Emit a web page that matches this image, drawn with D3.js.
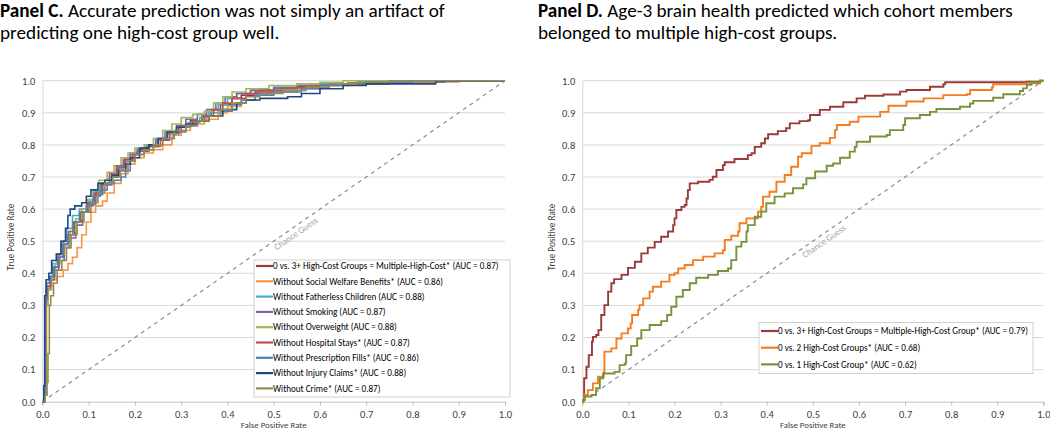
<!DOCTYPE html>
<html><head><meta charset="utf-8">
<script src="https://cdn.jsdelivr.net/npm/d3@7"></script>
<style>body{margin:0;background:#fff}svg{display:block}</style>
</head><body>
<svg id="chart" width="1050" height="430"></svg>
<script>
// ---------- DATA ----------
const ticks = [0,0.1,0.2,0.3,0.4,0.5,0.6,0.7,0.8,0.9,1.0];
const tickLabels = ["0.0","0.1","0.2","0.3","0.4","0.5","0.6","0.7","0.8","0.9","1.0"];
const titleC1 = "Accurate prediction was not simply an artifact of";
const titleC2 = "predicting one high-cost group well.";
const titleD1 = "Age-3 brain health predicted which cohort members";
const titleD2 = "belonged to multiple high-cost groups.";
const xTitle = "False Positive Rate";
const yTitle = "True Positive Rate";
const chanceLabel = "Chance Guess";

const namesC = [
 "0 vs. 3+ High-Cost Groups = Multiple-High-Cost* (AUC = 0.87)",
 "Without Social Welfare Benefits* (AUC = 0.86)",
 "Without Fatherless Children (AUC = 0.88)",
 "Without Smoking (AUC = 0.87)",
 "Without Overweight (AUC = 0.88)",
 "Without Hospital Stays* (AUC = 0.87)",
 "Without Prescription Fills* (AUC = 0.86)",
 "Without Injury Claims* (AUC = 0.88)",
 "Without Crime* (AUC = 0.87)"
];
const colorsC = ["#9B3B38","#F79646","#4BACC6","#8064A2","#9BBB59","#C0504D","#4F81BD","#1F497D","#948A54"];

const cMain = [[0,0],[0.005,0.02],[0.007,0.31],[0.01,0.35],[0.018,0.38],[0.025,0.42],[0.035,0.45],[0.046,0.49],[0.057,0.52],[0.07,0.56],[0.085,0.59],[0.1,0.62],[0.115,0.65],[0.13,0.68],[0.15,0.705],[0.165,0.73],[0.18,0.75],[0.195,0.77],[0.21,0.785],[0.23,0.795],[0.25,0.815],[0.27,0.835],[0.295,0.855],[0.32,0.875],[0.345,0.89],[0.365,0.91],[0.385,0.925],[0.41,0.945],[0.43,0.955],[0.46,0.965],[0.5,0.975],[0.55,0.982],[0.6,0.988],[0.66,0.993],[0.7,0.997],[0.78,1],[1,1]];
const cWelfare = [[0,0],[0.006,0.02],[0.009,0.3],[0.012,0.36],[0.02,0.38],[0.03,0.39],[0.045,0.41],[0.055,0.43],[0.065,0.45],[0.075,0.48],[0.085,0.52],[0.095,0.56],[0.105,0.59],[0.115,0.61],[0.13,0.625],[0.14,0.65],[0.155,0.68],[0.17,0.71],[0.185,0.74],[0.2,0.76],[0.22,0.775],[0.24,0.785],[0.26,0.8],[0.28,0.83],[0.3,0.845],[0.32,0.865],[0.35,0.88],[0.38,0.9],[0.4,0.92],[0.43,0.94],[0.46,0.955],[0.5,0.965],[0.55,0.975],[0.6,0.985],[0.67,0.99],[0.72,0.997],[0.8,1],[1,1]];
const cFatherless = [[0,0],[0.004,0.03],[0.006,0.33],[0.009,0.37],[0.015,0.39],[0.022,0.43],[0.032,0.46],[0.042,0.5],[0.052,0.54],[0.065,0.58],[0.08,0.6],[0.095,0.625],[0.11,0.655],[0.125,0.68],[0.145,0.7],[0.16,0.725],[0.175,0.75],[0.19,0.77],[0.205,0.78],[0.225,0.795],[0.245,0.815],[0.27,0.835],[0.29,0.855],[0.315,0.87],[0.34,0.885],[0.36,0.9],[0.38,0.925],[0.4,0.945],[0.42,0.96],[0.45,0.97],[0.5,0.98],[0.55,0.985],[0.6,0.99],[0.7,0.995],[0.75,1],[1,1]];
const cSmoking = [[0,0],[0.005,0.02],[0.007,0.3],[0.01,0.35],[0.017,0.38],[0.025,0.41],[0.035,0.44],[0.047,0.48],[0.058,0.51],[0.072,0.55],[0.087,0.59],[0.1,0.615],[0.115,0.645],[0.13,0.675],[0.15,0.7],[0.163,0.73],[0.175,0.755],[0.19,0.775],[0.205,0.785],[0.225,0.8],[0.245,0.82],[0.265,0.84],[0.29,0.86],[0.31,0.88],[0.335,0.895],[0.355,0.91],[0.375,0.93],[0.395,0.95],[0.42,0.96],[0.45,0.97],[0.5,0.977],[0.55,0.985],[0.62,0.99],[0.68,0.995],[0.76,1],[1,1]];
const cOverweight = [[0,0],[0.006,0.02],[0.008,0.3],[0.012,0.35],[0.02,0.39],[0.028,0.43],[0.038,0.46],[0.048,0.49],[0.06,0.53],[0.072,0.57],[0.085,0.6],[0.098,0.63],[0.11,0.66],[0.122,0.69],[0.14,0.715],[0.155,0.735],[0.17,0.76],[0.185,0.775],[0.2,0.79],[0.22,0.8],[0.24,0.82],[0.26,0.845],[0.28,0.865],[0.3,0.885],[0.325,0.895],[0.35,0.905],[0.37,0.93],[0.39,0.95],[0.41,0.965],[0.44,0.975],[0.49,0.985],[0.55,0.99],[0.6,0.995],[0.65,1],[1,1]];
const cHospital = [[0,0],[0.005,0.03],[0.007,0.32],[0.011,0.36],[0.018,0.39],[0.026,0.42],[0.036,0.46],[0.046,0.5],[0.056,0.53],[0.068,0.56],[0.082,0.59],[0.097,0.62],[0.112,0.65],[0.127,0.68],[0.145,0.71],[0.16,0.735],[0.178,0.755],[0.195,0.77],[0.21,0.78],[0.23,0.795],[0.255,0.815],[0.275,0.84],[0.3,0.86],[0.325,0.875],[0.35,0.89],[0.37,0.91],[0.39,0.93],[0.41,0.945],[0.44,0.96],[0.47,0.97],[0.52,0.978],[0.58,0.985],[0.64,0.99],[0.75,0.993],[0.85,0.997],[0.9,1],[1,1]];
const cPrescription = [[0,0],[0.004,0.03],[0.006,0.32],[0.009,0.37],[0.016,0.39],[0.024,0.42],[0.034,0.45],[0.044,0.49],[0.054,0.52],[0.066,0.56],[0.08,0.59],[0.095,0.61],[0.11,0.64],[0.125,0.66],[0.14,0.68],[0.155,0.69],[0.17,0.7],[0.18,0.72],[0.19,0.75],[0.2,0.77],[0.22,0.785],[0.24,0.8],[0.26,0.82],[0.285,0.84],[0.31,0.86],[0.335,0.875],[0.36,0.89],[0.385,0.905],[0.41,0.925],[0.43,0.94],[0.46,0.955],[0.5,0.965],[0.56,0.975],[0.6,0.985],[0.65,0.99],[0.7,0.995],[0.8,1],[1,1]];
const cInjury = [[0,0],[0.003,0.05],[0.005,0.33],[0.008,0.38],[0.014,0.4],[0.02,0.44],[0.03,0.46],[0.04,0.5],[0.05,0.54],[0.055,0.58],[0.06,0.6],[0.07,0.61],[0.085,0.62],[0.095,0.64],[0.105,0.66],[0.12,0.68],[0.135,0.69],[0.15,0.705],[0.165,0.72],[0.18,0.74],[0.19,0.76],[0.21,0.79],[0.23,0.8],[0.25,0.82],[0.27,0.84],[0.29,0.855],[0.31,0.865],[0.335,0.875],[0.36,0.89],[0.39,0.91],[0.42,0.93],[0.44,0.94],[0.47,0.945],[0.53,0.95],[0.56,0.96],[0.6,0.975],[0.65,0.985],[0.7,0.99],[0.85,0.997],[0.87,1],[1,1]];
const cCrime = [[0,0],[0.006,0.02],[0.01,0.06],[0.012,0.15],[0.015,0.3],[0.018,0.33],[0.024,0.37],[0.032,0.41],[0.042,0.44],[0.052,0.48],[0.062,0.52],[0.075,0.56],[0.09,0.59],[0.105,0.62],[0.12,0.65],[0.135,0.68],[0.152,0.7],[0.168,0.72],[0.185,0.75],[0.2,0.77],[0.22,0.785],[0.24,0.8],[0.26,0.82],[0.285,0.845],[0.31,0.86],[0.335,0.875],[0.36,0.89],[0.385,0.91],[0.41,0.93],[0.44,0.95],[0.47,0.96],[0.52,0.97],[0.57,0.98],[0.62,0.99],[0.68,0.995],[0.75,1],[1,1]];

const namesD = [
 "0 vs. 3+ High-Cost Groups = Multiple-High-Cost Group* (AUC = 0.79)",
 "0 vs. 2 High-Cost Groups* (AUC = 0.68)",
 "0 vs. 1 High-Cost Group* (AUC = 0.62)"
];
const colorsD = ["#9B3B38","#F57C1F","#77933C"];
const d3plus = [[0,0],[0.002,0.005],[0.004,0.073],[0.009,0.109],[0.014,0.145],[0.021,0.187],[0.023,0.202],[0.03,0.208],[0.035,0.223],[0.041,0.27],[0.048,0.301],[0.056,0.343],[0.063,0.369],[0.069,0.382],[0.085,0.395],[0.099,0.417],[0.114,0.436],[0.128,0.462],[0.142,0.48],[0.157,0.498],[0.171,0.514],[0.186,0.53],[0.197,0.55],[0.2,0.571],[0.204,0.597],[0.215,0.607],[0.222,0.613],[0.226,0.633],[0.229,0.659],[0.233,0.68],[0.251,0.685],[0.276,0.691],[0.283,0.701],[0.291,0.722],[0.305,0.737],[0.309,0.746],[0.33,0.756],[0.359,0.768],[0.367,0.774],[0.374,0.794],[0.388,0.805],[0.396,0.82],[0.403,0.833],[0.424,0.843],[0.442,0.852],[0.45,0.867],[0.471,0.874],[0.49,0.877],[0.494,0.893],[0.515,0.909],[0.537,0.919],[0.566,0.933],[0.595,0.945],[0.613,0.953],[0.653,0.957],[0.689,0.966],[0.703,0.971],[0.732,0.971],[0.754,0.981],[0.783,0.989],[0.787,0.995],[0.964,0.997],[0.993,1],[1,1]];
const d2 = [[0,0],[0.002,0.005],[0.005,0.021],[0.012,0.036],[0.023,0.057],[0.034,0.078],[0.047,0.093],[0.048,0.156],[0.063,0.166],[0.074,0.197],[0.085,0.213],[0.099,0.228],[0.105,0.244],[0.108,0.27],[0.121,0.286],[0.124,0.301],[0.132,0.322],[0.146,0.343],[0.153,0.358],[0.171,0.374],[0.189,0.395],[0.2,0.4],[0.208,0.415],[0.222,0.426],[0.24,0.441],[0.262,0.452],[0.28,0.452],[0.287,0.462],[0.305,0.472],[0.309,0.504],[0.323,0.517],[0.338,0.53],[0.341,0.556],[0.356,0.571],[0.381,0.592],[0.388,0.607],[0.392,0.639],[0.406,0.654],[0.421,0.685],[0.439,0.706],[0.453,0.732],[0.468,0.763],[0.476,0.774],[0.497,0.797],[0.515,0.805],[0.537,0.822],[0.548,0.846],[0.552,0.862],[0.58,0.872],[0.599,0.888],[0.638,0.888],[0.646,0.903],[0.664,0.922],[0.703,0.935],[0.74,0.945],[0.783,0.955],[0.834,0.958],[0.841,0.971],[0.888,0.979],[0.891,0.989],[0.964,0.992],[0.993,1],[1,1]];
const d1 = [[0,0],[0.002,0.005],[0.005,0.016],[0.02,0.021],[0.03,0.042],[0.038,0.073],[0.045,0.088],[0.07,0.093],[0.081,0.114],[0.092,0.119],[0.095,0.145],[0.106,0.174],[0.119,0.197],[0.128,0.223],[0.146,0.239],[0.171,0.251],[0.184,0.27],[0.193,0.296],[0.204,0.327],[0.218,0.348],[0.233,0.369],[0.247,0.386],[0.273,0.395],[0.294,0.407],[0.316,0.415],[0.323,0.441],[0.334,0.483],[0.345,0.498],[0.356,0.53],[0.359,0.55],[0.374,0.576],[0.388,0.592],[0.399,0.618],[0.417,0.639],[0.439,0.649],[0.457,0.665],[0.479,0.677],[0.486,0.696],[0.505,0.717],[0.53,0.735],[0.544,0.742],[0.559,0.76],[0.58,0.779],[0.591,0.794],[0.595,0.81],[0.624,0.826],[0.66,0.831],[0.667,0.846],[0.696,0.862],[0.7,0.883],[0.732,0.893],[0.754,0.903],[0.768,0.912],[0.819,0.919],[0.841,0.929],[0.848,0.937],[0.891,0.947],[0.913,0.958],[0.949,0.968],[0.956,0.976],[0.964,0.987],[0.974,0.995],[0.993,1],[1,1]];

const seriesC = [cMain,cWelfare,cFatherless,cSmoking,cOverweight,cHospital,cPrescription,cInjury,cCrime];
const seriesD = [d3plus,d2,d1];

// ---------- DRAW ----------
const FONT = "Carlito, Lato, 'Open Sans', sans-serif";
const svg = d3.select("#chart").style("font-family", FONT);

function fitWidth(sel, target){
  const w = sel.node().getComputedTextLength();
  const fs = parseFloat(sel.attr("font-size"));
  const nf = fs*target/w;
  sel.attr("font-size", nf);
  return nf;
}

// Titles
function title(x, bold, l1, l2, targetW){
  const t1 = svg.append("text").attr("x", x).attr("y", 17).attr("font-size", 16).attr("fill", "#000");
  t1.append("tspan").attr("font-weight", "bold").text(bold);
  t1.append("tspan").text(" " + l1);
  const fs = fitWidth(t1, targetW);
  svg.append("text").attr("x", x).attr("y", 38.5).attr("font-size", fs).attr("fill", "#000").text(l2);
}
title(0, "Panel C.", titleC1, titleC2, 445);
title(538, "Panel D.", titleD1, titleD2, 475);

function panel(opts){
  const x = d3.scaleLinear().domain([0,1]).range(opts.xr);
  const y = d3.scaleLinear().domain([0,1]).range([401.7, 80.7]);
  const g = svg.append("g");

  // gridlines
  g.append("g").selectAll("line").data(ticks.slice(1)).join("line")
    .attr("x1", x(0)).attr("x2", x(1))
    .attr("y1", d => y(d)).attr("y2", d => y(d))
    .attr("stroke", "#d9d9d9").attr("stroke-width", 1);

  // axes
  const xa = g.append("g").attr("transform", `translate(0,${y(0)})`)
    .call(d3.axisBottom(x).tickValues(ticks).tickFormat((d,i) => tickLabels[i]).tickSize(4).tickPadding(5));
  const ya = g.append("g").attr("transform", `translate(${x(0)},0)`)
    .call(d3.axisLeft(y).tickValues(ticks).tickFormat((d,i) => tickLabels[i]).tickSize(0).tickPadding(7));
  [xa, ya].forEach(a => {
    a.select(".domain").attr("stroke", "#bfbfbf");
    a.selectAll(".tick line").attr("stroke", "#bfbfbf");
    a.selectAll("text").attr("fill", "#404040").attr("font-size", 10.5).attr("font-family", FONT);
  });
  ya.select(".domain").attr("stroke", "#d9d9d9");

  // axis titles
  const xt = g.append("text").attr("x", (x(0)+x(1))/2).attr("y", 428).attr("text-anchor", "middle")
    .attr("font-size", 9).attr("fill", "#404040").text(xTitle);
  fitWidth(xt, 66);
  const yt = g.append("text").attr("transform", `translate(${opts.ytx},237) rotate(-90)`)
    .attr("text-anchor", "middle").attr("font-size", 9).attr("fill", "#404040").text(yTitle);
  fitWidth(yt, 67);

  // chance line
  g.append("line").attr("x1", x(0)).attr("y1", y(0)).attr("x2", x(1)).attr("y2", y(1))
    .attr("stroke", "#8c8c8c").attr("stroke-width", 1.2).attr("stroke-dasharray", "4,4");
  const ang = Math.atan2(y(0)-y(1), x(1)-x(0)) * 180 / Math.PI;
  g.append("text").attr("transform", `translate(${x(opts.chanceT)},${y(opts.chanceT)}) rotate(${-ang})`)
    .attr("text-anchor", "middle").attr("dy", "1.05em").attr("font-size", 9).attr("fill", "#a6a6a6")
    .text(chanceLabel);

  // curves
  const line = d3.line().x(d => x(d[0])).y(d => y(d[1])).curve(d3.curveStepAfter);
  const order = opts.series.map((s,i) => i);
  g.append("g").selectAll("path").data(order).join("path")
    .attr("d", i => line(opts.series[i]))
    .attr("fill", "none").attr("stroke", i => opts.colors[i])
    .attr("stroke-width", opts.lw).attr("stroke-linejoin", "miter");

  // legend
  const L = opts.legend;
  const lg = g.append("g");
  lg.append("rect").attr("x", L.x).attr("y", L.y).attr("width", L.w).attr("height", L.h)
    .attr("fill", "#fff").attr("stroke", "#d0d0d0").attr("stroke-width", 1);
  const rows = lg.selectAll("g.row").data(opts.names).join("g").attr("class", "row")
    .attr("transform", (d,i) => `translate(0,${L.y0 + i*L.dy})`);
  rows.append("line").attr("x1", L.x+2).attr("x2", L.x+19).attr("y1", 0).attr("y2", 0)
    .attr("stroke", (d,i) => opts.colors[i]).attr("stroke-width", 2.2);
  const texts = rows.append("text").attr("x", L.x+19).attr("y", 0).attr("dy", "0.35em")
    .attr("font-size", 9).attr("fill", "#000").text(d => d);
  const fs = fitWidth(d3.select(texts.nodes()[0]), L.tw);
  texts.attr("font-size", fs);
}

panel({
  xr: [42.4, 505], ytx: 14, series: seriesC, colors: colorsC, names: namesC, lw: 1.6, chanceT: 0.54,
  legend: {x: 254, y: 260, w: 256, h: 137, y0: 266, dy: 15.3, tw: 226}
});
panel({
  xr: [582.3, 1043.4], ytx: 555, series: seriesD, colors: colorsD, names: namesD, lw: 1.9, chanceT: 0.516,
  legend: {x: 759, y: 322.5, w: 274, h: 51, y0: 331, dy: 16.7, tw: 250}
});
</script>
</body></html>
